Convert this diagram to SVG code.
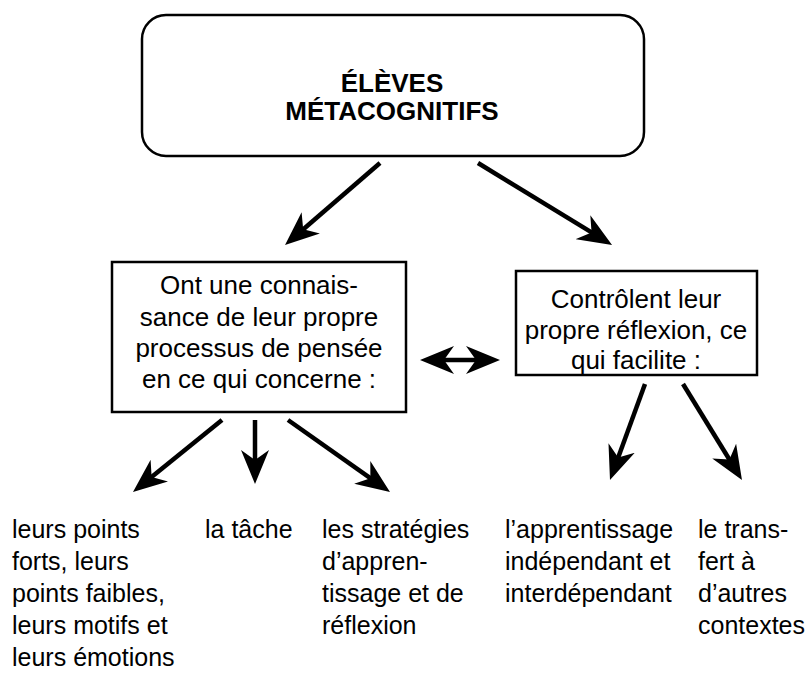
<svg xmlns="http://www.w3.org/2000/svg" width="806" height="673" viewBox="0 0 806 673">
<style>
.box{fill:#fff;stroke:#000;stroke-width:2.5}
.t{font-family:"Liberation Sans",Arial,sans-serif;fill:#000}
.title{font-size:26px;font-weight:bold;text-anchor:middle}
.bt{font-size:26px;text-anchor:middle}
.lb{font-size:25px}
.c line{stroke:#000;stroke-width:4.5;marker-end:url(#ah)}
</style>
<defs>
<marker id="ah" viewBox="0 0 34 28" refX="22" refY="14" markerWidth="34" markerHeight="28" markerUnits="userSpaceOnUse" orient="auto-start-reverse">
<path d="M34,14 L0,0 L10,14 L0,28 Z" fill="#000"/>
</marker>
</defs>
<rect width="806" height="673" fill="#fff"/>
<g id="top">
<rect class="box" x="142" y="15" width="502" height="141" rx="24"/>
<text class="t title" x="392" y="92">ÉLÈVES</text>
<text class="t title" x="392" y="120">MÉTACOGNITIFS</text>
</g>
<g id="left">
<rect class="box" x="112" y="262" width="294" height="150"/>
<text class="t bt" x="259" y="294">Ont une connais-</text>
<text class="t bt" x="259" y="326">sance de leur propre</text>
<text class="t bt" x="259" y="357">processus de pensée</text>
<text class="t bt" x="259" y="388">en ce qui concerne :</text>
</g>
<g id="right">
<rect class="box" x="516" y="271" width="241" height="104"/>
<text class="t bt" x="636" y="308">Contrôlent leur</text>
<text class="t bt" x="636" y="339">propre réflexion, ce</text>
<text class="t bt" x="636" y="369">qui facilite :</text>
</g>
<g id="l1"><text class="t lb" x="12" y="538">leurs points</text><text class="t lb" x="12" y="570">forts, leurs</text><text class="t lb" x="12" y="602">points faibles,</text><text class="t lb" x="12" y="634">leurs motifs et</text><text class="t lb" x="12" y="666">leurs émotions</text></g>
<g id="l2"><text class="t lb" x="205" y="538">la tâche</text></g>
<g id="l3"><text class="t lb" x="322" y="538">les stratégies</text><text class="t lb" x="322" y="570">d’appren-</text><text class="t lb" x="322" y="602">tissage et de</text><text class="t lb" x="322" y="634">réflexion</text></g>
<g id="l4"><text class="t lb" x="505" y="538">l’apprentissage</text><text class="t lb" x="505" y="570">indépendant et</text><text class="t lb" x="505" y="602">interdépendant</text></g>
<g id="l5"><text class="t lb" x="698" y="538">le trans-</text><text class="t lb" x="698" y="570">fert à</text><text class="t lb" x="698" y="602">d’autres</text><text class="t lb" x="698" y="634">contextes</text></g>
<g class="c" id="connectors">
<line x1="380" y1="163" x2="294.1" y2="237.2"/>
<line x1="478" y1="163" x2="601.8" y2="238.7"/>
<line x1="432" y1="360" x2="488" y2="360" style="marker-start:url(#ah)"/>
<line x1="222" y1="420" x2="142.3" y2="484.5"/>
<line x1="255" y1="420" x2="255" y2="472"/>
<line x1="288" y1="420" x2="380.2" y2="485.1"/>
<line x1="645" y1="384" x2="614.1" y2="468.7"/>
<line x1="683" y1="384" x2="735.7" y2="469.8"/>
</g>
</svg>
